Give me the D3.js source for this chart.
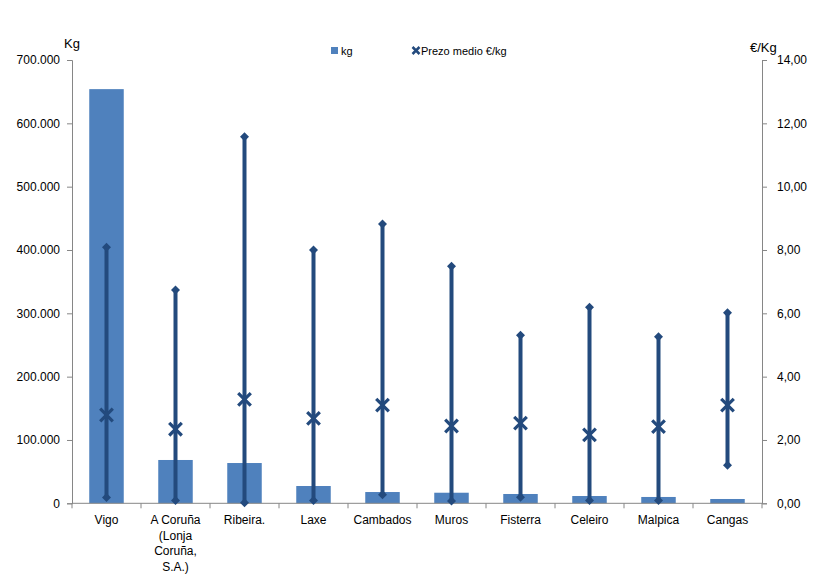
<!DOCTYPE html>
<html><head><meta charset="utf-8">
<script src="https://cdn.jsdelivr.net/npm/d3@7"></script>
<style>body{margin:0;background:#fff;}svg{display:block;font-family:"Liberation Sans",Arial,sans-serif;}</style>
</head><body>
<svg id="c" width="818" height="586"></svg>
<script>
const categories = ["Vigo", "A Coruña\n(Lonja\nCoruña,\nS.A.)", "Ribeira.", "Laxe", "Cambados", "Muros", "Fisterra", "Celeiro", "Malpica", "Cangas"];
const kg = [654000, 68400, 63600, 27300, 17800, 16700, 14700, 11500, 10000, 6800];
const priceMax = [8.09, 6.74, 11.58, 8.00, 8.82, 7.49, 5.31, 6.19, 5.26, 6.02];
const priceMin = [0.18, 0.09, 0.02, 0.09, 0.27, 0.07, 0.19, 0.09, 0.09, 1.20];
const priceAvg = [2.79, 2.34, 3.28, 2.68, 3.10, 2.44, 2.53, 2.16, 2.42, 3.10];
const kgTicks = [0, 100000, 200000, 300000, 400000, 500000, 600000, 700000];
const priceTicks = [0, 2, 4, 6, 8, 10, 12, 14];

const svg = d3.select("#c");
const L = 72, R = 762, T = 60, B = 503.3;
const axisCol = "#868686", barCol = "#4F81BD", lineCol = "#234A7D";
const idx = categories.map((d, i) => i);
const x = d3.scaleBand().domain(idx).range([L, R]).paddingInner(0.5).paddingOuter(0.25);
const xb = d3.scaleBand().domain(idx).range([L, R]);
const yL = d3.scaleLinear().domain([0, 700000]).range([B, T]);
const yR = d3.scaleLinear().domain([0, 14]).range([B, T]);
const fmtK = v => d3.format(",")(v).replace(/,/g, ".");
const fmtP = v => d3.format(".2f")(v).replace(".", ",");

// bars
svg.append("g").selectAll("rect").data(kg).join("rect")
  .attr("x", (d, i) => x(i)).attr("width", x.bandwidth())
  .attr("y", d => yL(d)).attr("height", d => B - yL(d))
  .attr("fill", barCol);

// left axis
const gl = svg.append("g").attr("transform", `translate(${L},0)`)
  .call(d3.axisLeft(yL).tickValues(kgTicks).tickFormat(fmtK).tickSize(5).tickPadding(7));
// right axis
const gr = svg.append("g").attr("transform", `translate(${R},0)`)
  .call(d3.axisRight(yR).tickValues(priceTicks).tickFormat(fmtP).tickSize(5).tickPadding(10));
// bottom axis
const bounds = idx.map(i => xb(i)).concat([R]);
const gb = svg.append("g").attr("transform", `translate(0,${B})`);
gb.append("line").attr("x1", L).attr("x2", R).attr("stroke", axisCol);
gb.selectAll("line.t").data(bounds).join("line").attr("class", "t")
  .attr("x1", d => d).attr("x2", d => d).attr("y1", 0).attr("y2", 5).attr("stroke", axisCol);
gb.selectAll("text").data(categories).join("text")
  .attr("text-anchor", "middle").attr("font-size", 12).attr("fill", "#000")
  .attr("transform", (d, i) => `translate(${xb(i) + xb.bandwidth() / 2},0)`)
  .each(function (d) {
    d.split("\n").forEach((ln, k) => {
      d3.select(this).append("tspan").attr("x", 0).attr("y", 21 + k * 15.5).text(ln);
    });
  });

[gl, gr].forEach(g => {
  g.select(".domain").attr("stroke", axisCol);
  g.selectAll(".tick line").attr("stroke", axisCol);
  g.selectAll(".tick text").attr("font-size", 12).attr("fill", "#000").attr("font-family", "Liberation Sans, Arial, sans-serif");
});

// high-low lines
const cx = i => xb(i) + xb.bandwidth() / 2;
svg.append("g").selectAll("line").data(idx).join("line")
  .attr("x1", cx).attr("x2", cx)
  .attr("y1", i => yR(priceMin[i])).attr("y2", i => yR(priceMax[i]))
  .attr("stroke", lineCol).attr("stroke-width", 4);
const dm = 4.5;
const diamond = `M0,${-dm}L${dm},0L0,${dm}L${-dm},0Z`;
svg.append("g").selectAll("path.mx").data(idx).join("path").attr("class", "mx")
  .attr("d", diamond).attr("fill", lineCol)
  .attr("transform", i => `translate(${cx(i)},${yR(priceMax[i])})`);
svg.append("g").selectAll("path.mn").data(idx).join("path").attr("class", "mn")
  .attr("d", diamond).attr("fill", lineCol)
  .attr("transform", i => `translate(${cx(i)},${yR(priceMin[i])})`);
// average X markers
const xs = 6.3;
const xMark = "M" + (-xs) + "," + (-xs) + "L" + xs + "," + xs + "M" + (-xs) + "," + xs + "L" + xs + "," + (-xs);
svg.append("g").selectAll("path.av").data(idx).join("path").attr("class", "av")
  .attr("d", xMark).attr("stroke", lineCol).attr("stroke-width", 3.2).attr("fill", "none")
  .attr("transform", i => `translate(${cx(i)},${yR(priceAvg[i])})`);

// axis titles
svg.append("text").attr("x", 64).attr("y", 48).attr("font-size", 13).attr("fill", "#000").text("Kg");
svg.append("text").attr("x", 750).attr("y", 52).attr("font-size", 13).attr("fill", "#000").text("€/Kg");

// legend
const lg = svg.append("g");
lg.append("rect").attr("x", 331).attr("y", 47).attr("width", 7).attr("height", 7).attr("fill", barCol);
lg.append("text").attr("x", 341).attr("y", 54.5).attr("font-size", 11).attr("fill", "#000").text("kg");
const xl = 3.5;
lg.append("path").attr("d", `M${-xl},${-xl}L${xl},${xl}M${-xl},${xl}L${xl},${-xl}`)
  .attr("transform", "translate(416,50.5)").attr("stroke", lineCol).attr("stroke-width", 2.5);
lg.append("text").attr("x", 421).attr("y", 54.5).attr("font-size", 11).attr("fill", "#000").text("Prezo medio €/kg");
</script>
</body></html>
